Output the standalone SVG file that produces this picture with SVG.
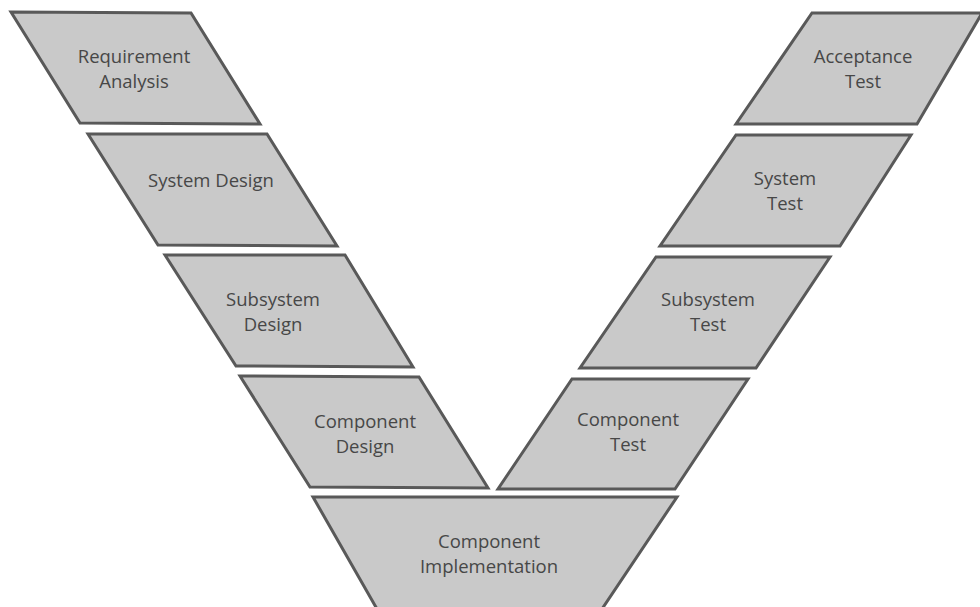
<svg xmlns="http://www.w3.org/2000/svg" width="980" height="607" viewBox="0 0 980 607">
  <style>
    .box { fill: #c9c9c9; stroke: #595959; stroke-width: 3; stroke-linejoin: miter; }
    .lbl { font-family: "Open Sans", "Liberation Sans", sans-serif; font-size: 18.5px; fill: #474747; text-anchor: middle; }
  </style>
  <rect width="980" height="607" fill="#ffffff"/>

  <!-- left arm: design phases -->
  <g id="requirement-analysis">
    <polygon class="box" points="11,12 191,13 260,124 80,123"/>
    <text class="lbl" x="134" y="63">Requirement</text>
    <text class="lbl" x="134" y="88">Analysis</text>
  </g>
  <g id="system-design">
    <polygon class="box" points="88,134 267,134 337,246 158,245"/>
    <text class="lbl" x="211" y="187">System Design</text>
  </g>
  <g id="subsystem-design">
    <polygon class="box" points="165,255 345,255 413,367 236,366"/>
    <text class="lbl" x="273" y="306">Subsystem</text>
    <text class="lbl" x="273" y="331">Design</text>
  </g>
  <g id="component-design">
    <polygon class="box" points="240,376 419,377 488,488 310,487"/>
    <text class="lbl" x="365" y="428">Component</text>
    <text class="lbl" x="365" y="453">Design</text>
  </g>

  <!-- bottom: implementation -->
  <g id="component-implementation">
    <polygon class="box" points="313,497 677,497 602,609 377,609"/>
    <text class="lbl" x="489" y="548">Component</text>
    <text class="lbl" x="489" y="573">Implementation</text>
  </g>

  <!-- right arm: test phases -->
  <g id="acceptance-test">
    <polygon class="box" points="812,13 982,13 917,124 736,124"/>
    <text class="lbl" x="863" y="63">Acceptance</text>
    <text class="lbl" x="863" y="88">Test</text>
  </g>
  <g id="system-test">
    <polygon class="box" points="736,135 911,135 840,246 660,246"/>
    <text class="lbl" x="785" y="185">System</text>
    <text class="lbl" x="785" y="210">Test</text>
  </g>
  <g id="subsystem-test">
    <polygon class="box" points="656,257 830,257 756,368 580,368"/>
    <text class="lbl" x="708" y="306">Subsystem</text>
    <text class="lbl" x="708" y="331">Test</text>
  </g>
  <g id="component-test">
    <polygon class="box" points="572,379 748,379 675,489 498,489"/>
    <text class="lbl" x="628" y="426">Component</text>
    <text class="lbl" x="628" y="451">Test</text>
  </g>

  <g id="connectors"/>
</svg>
